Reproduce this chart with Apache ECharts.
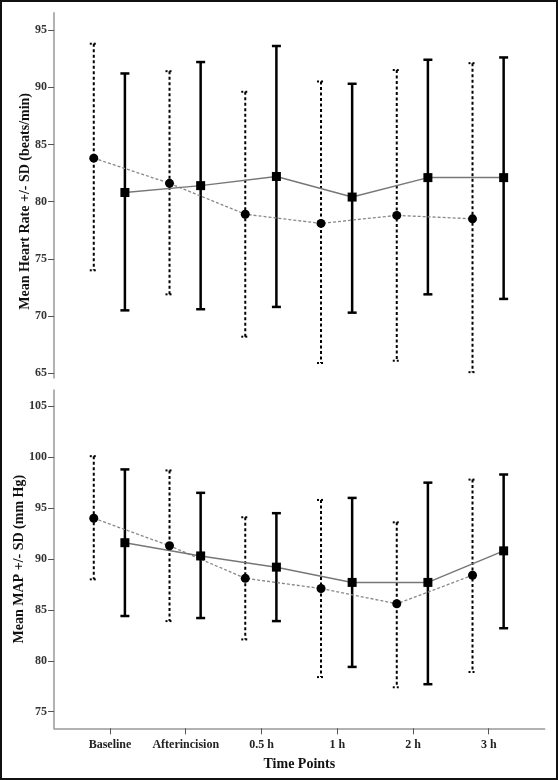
<!DOCTYPE html>
<html>
<head>
<meta charset="utf-8">
<script src="https://cdn.jsdelivr.net/npm/echarts@6/dist/echarts.min.js"></script>
<style>html,body{margin:0;padding:0;background:#fff;}#c{width:558px;height:780px;}</style>
</head>
<body>
<div id="c"></div>
<script>
// ---- data ----
const categories = ['Baseline', 'Afterincision', '0.5 h', '1 h', '2 h', '3 h'];
const hrTicks = [65, 70, 75, 80, 85, 90, 95];
const mapTicks = [75, 80, 85, 90, 95, 100, 105];

// Heart rate, dotted group (circles)
const hrDotMean = [83.8, 81.6, 78.9, 78.1, 78.8, 78.5];
const hrDotLow  = [74.0, 71.9, 68.2, 65.9, 66.1, 65.1];
const hrDotHigh = [93.8, 91.4, 89.6, 90.5, 91.5, 92.1];
// Heart rate, solid group (squares)
const hrSolidMean = [80.8, 81.4, 82.2, 80.4, 82.1, 82.1];
const hrSolidLow  = [70.5, 70.6, 70.8, 70.3, 71.9, 71.5];
const hrSolidHigh = [91.2, 92.2, 93.6, 90.3, 92.4, 92.6];

// MAP, dotted group (circles)
const mapDotMean = [94.0, 91.3, 88.1, 87.1, 85.6, 88.4];
const mapDotLow  = [88.0, 83.9, 82.1, 78.4, 77.4, 78.9];
const mapDotHigh = [100.1, 98.7, 94.1, 95.8, 93.6, 97.8];
// MAP, solid group (squares)
const mapSolidMean = [91.6, 90.3, 89.2, 87.7, 87.7, 90.8];
const mapSolidLow  = [84.4, 84.2, 83.9, 79.4, 77.7, 83.2];
const mapSolidHigh = [98.8, 96.5, 94.5, 96.0, 97.5, 98.3];

// ---- layout / style constants ----
const DOT_OFF = -0.214, SOLID_OFF = 0.197;
const FONT = '"Liberation Serif", "Times New Roman", serif';

function pts(vals, off) { return vals.map((v, i) => [i + off, v]); }
function errs(low, high, off) { return low.map((l, i) => [i + off, l, high[i]]); }

function errRender(dashed, lw, cap) {
  return function (params, api) {
    const x = api.value(0), lo = api.value(1), hi = api.value(2);
    const t = api.coord([x, hi]), b = api.coord([x, lo]);
    const style = { stroke: '#000', lineWidth: lw, fill: null, lineDash: dashed ? [3, 2.5] : null };
    const capStyle = Object.assign({}, style, { lineDash: dashed ? [2, 2] : null });
    return {
      type: 'group',
      children: [
        { type: 'line', shape: { x1: t[0], y1: t[1], x2: b[0], y2: b[1] }, style: style },
        { type: 'line', shape: { x1: t[0] - cap, y1: t[1], x2: t[0] + cap, y2: t[1] }, style: capStyle },
        { type: 'line', shape: { x1: b[0] - cap, y1: b[1], x2: b[0] + cap, y2: b[1] }, style: capStyle }
      ]
    };
  };
}

const yAxisCommon = {
  type: 'value',
  splitLine: { show: false },
  axisLine: { show: true, onZero: false, lineStyle: { color: '#999', width: 1.5 } },
  axisTick: { show: true, length: 6, lineStyle: { color: '#555', width: 1 } },
  axisLabel: { fontFamily: FONT, fontWeight: 'bold', fontSize: 12, color: '#333', margin: 7 },
  nameLocation: 'middle',
  nameRotate: 90,
  nameMoveOverlap: false
};

const chart = echarts.init(document.getElementById('c'), null, { renderer: 'canvas' });
chart.setOption({
  animation: false,
  backgroundColor: '#fff',
  grid: [
    { left: 54, right: 13.3, top: 12.7, height: 365.3, outerBoundsMode: 'none', containLabel: false },
    { left: 54, right: 13.3, top: 390, height: 338.3, outerBoundsMode: 'none', containLabel: false }
  ],
  xAxis: [
    { gridIndex: 0, type: 'value', min: -0.739, max: 5.739, show: false },
    {
      gridIndex: 1, type: 'value', min: -0.739, max: 5.739,
      splitLine: { show: false },
      axisLine: { show: true, onZero: false, lineStyle: { color: '#999', width: 1.5 } },
      axisTick: { show: true, length: 6, customValues: categories.map((c, i) => i), lineStyle: { color: '#555' } },
      axisLabel: {
        customValues: categories.map((c, i) => i),
        formatter: v => categories[Math.round(v)],
        fontFamily: FONT, fontWeight: 'bold', fontSize: 12, color: '#222', margin: 11
      },
      name: 'Time Points',
      nameLocation: 'middle',
      nameGap: 29,
      nameMoveOverlap: false,
      nameTextStyle: { fontFamily: FONT, fontWeight: 'bold', fontSize: 14, color: '#111' }
    }
  ],
  yAxis: [
    Object.assign({}, yAxisCommon, {
      gridIndex: 0, min: 64.59, max: 96.51,
      name: 'Mean Heart Rate +/- SD (beats/min)', nameGap: 22,
      nameTextStyle: { fontFamily: FONT, fontWeight: 'bold', fontSize: 14, color: '#111', padding: [0, 12, 0, 0] },
      axisTick: Object.assign({}, yAxisCommon.axisTick, { customValues: hrTicks }),
      axisLabel: Object.assign({}, yAxisCommon.axisLabel, { customValues: hrTicks })
    }),
    Object.assign({}, yAxisCommon, {
      gridIndex: 1, min: 73.37, max: 106.6,
      name: 'Mean MAP +/- SD (mm Hg)', nameGap: 28,
      nameTextStyle: { fontFamily: FONT, fontWeight: 'bold', fontSize: 14, color: '#111' },
      axisTick: Object.assign({}, yAxisCommon.axisTick, { customValues: mapTicks }),
      axisLabel: Object.assign({}, yAxisCommon.axisLabel, { customValues: mapTicks })
    })
  ],
  graphic: [
    { type: 'rect', shape: { x: 1, y: 1, width: 556, height: 778 }, style: { fill: null, stroke: '#111', lineWidth: 2 }, z: 100 }
  ],
  series: [
    // ---- Heart rate ----
    { type: 'custom', xAxisIndex: 0, yAxisIndex: 0, renderItem: errRender(true, 2, 4), data: errs(hrDotLow, hrDotHigh, DOT_OFF), encode: { x: 0, y: [1, 2] }, z: 2 },
    { type: 'custom', xAxisIndex: 0, yAxisIndex: 0, renderItem: errRender(false, 2.5, 4.5), data: errs(hrSolidLow, hrSolidHigh, SOLID_OFF), encode: { x: 0, y: [1, 2] }, z: 2 },
    { type: 'line', xAxisIndex: 0, yAxisIndex: 0, data: pts(hrDotMean, DOT_OFF), symbol: 'circle', symbolSize: 9,
      itemStyle: { color: '#000' }, lineStyle: { color: '#888', width: 1.3, type: [3, 2] }, z: 3 },
    { type: 'line', xAxisIndex: 0, yAxisIndex: 0, data: pts(hrSolidMean, SOLID_OFF), symbol: 'rect', symbolSize: 9,
      itemStyle: { color: '#000' }, lineStyle: { color: '#777', width: 1.5 }, z: 3 },
    // ---- MAP ----
    { type: 'custom', xAxisIndex: 1, yAxisIndex: 1, renderItem: errRender(true, 2, 4), data: errs(mapDotLow, mapDotHigh, DOT_OFF), encode: { x: 0, y: [1, 2] }, z: 2 },
    { type: 'custom', xAxisIndex: 1, yAxisIndex: 1, renderItem: errRender(false, 2.5, 4.5), data: errs(mapSolidLow, mapSolidHigh, SOLID_OFF), encode: { x: 0, y: [1, 2] }, z: 2 },
    { type: 'line', xAxisIndex: 1, yAxisIndex: 1, data: pts(mapDotMean, DOT_OFF), symbol: 'circle', symbolSize: 9,
      itemStyle: { color: '#000' }, lineStyle: { color: '#888', width: 1.3, type: [3, 2] }, z: 3 },
    { type: 'line', xAxisIndex: 1, yAxisIndex: 1, data: pts(mapSolidMean, SOLID_OFF), symbol: 'rect', symbolSize: 9,
      itemStyle: { color: '#000' }, lineStyle: { color: '#777', width: 1.5 }, z: 3 }
  ]
});
</script>
</body>
</html>
